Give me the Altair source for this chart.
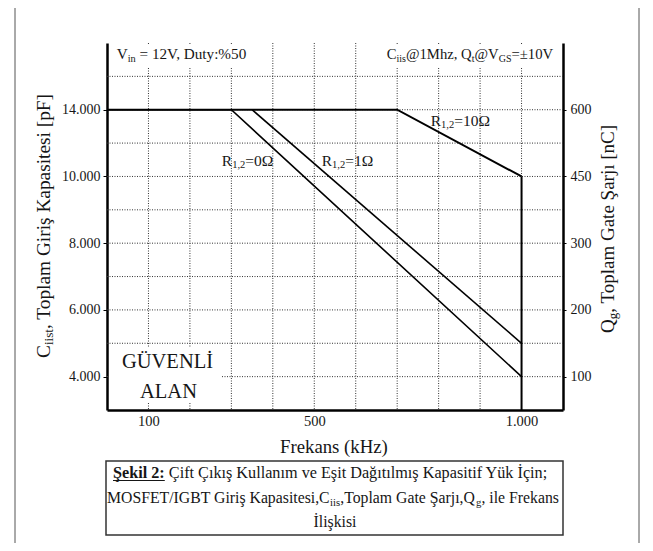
import altair as alt
import pandas as pd

# ---------------- data ----------------
freq_r0 = [0, 300, 1000]
cap_r0 = [14000, 14000, 4000]
freq_r1 = [350, 1000]
cap_r1 = [14000, 5000]
freq_r10 = [0, 700, 1000]
cap_r10 = [14000, 14000, 10000]
limit_freq = [1000]
limit_cap_top = [10000]
limit_cap_bottom = [3000]

cap_ticks = [4000, 6000, 8000, 10000, 14000]
cap_grid = [4000, 5000, 6000, 7000, 8000, 9000, 10000, 12000, 14000, 16000]
q_ticks = [100, 200, 300, 450, 600]
freq_ticks = [100, 500, 1000]
freq_grid = [100, 200, 300, 400, 500, 600, 700, 800, 900, 1000]

cap_domain = [3000, 4000, 6000, 8000, 10000, 14000, 18000]
q_domain = [50, 100, 200, 300, 450, 600, 750]
freq_domain = [0, 1100]

label_freq = [277, 518, 781]
label_cap = [10650, 10650, 13050]
label_tail = ["=0\u03a9", "=1\u03a9", "=10\u03a9"]

# ---------------- layout ----------------
W, H = 456, 367
OX, OY = 107, 43          # screen position of the plot origin
FONT = "Liberation Serif"
INK = "#161616"
steps = [0, 1, 3, 5, 7, 9, 11]
yrange = [H - s * H / 11 for s in steps]

# Times / Liberation Serif advance widths (1/1000 em)
TW = {' ': 250, '%': 833, '(': 333, ')': 333, ',': 250, '-': 333, '.': 250, '/': 278,
      ':': 278, ';': 278, '=': 564, '@': 921, '[': 333, ']': 333, '\u00b1': 564, '\u03a9': 768,
      'A': 722, 'B': 667, 'C': 667, 'D': 722, 'E': 611, 'F': 556, 'G': 722, 'H': 722, 'I': 333,
      'J': 389, 'K': 722, 'L': 611, 'M': 889, 'N': 722, 'O': 722, 'P': 556, 'Q': 722, 'R': 667,
      'S': 556, 'T': 611, 'U': 722, 'V': 722, 'W': 944, 'X': 722, 'Y': 722, 'Z': 611,
      'a': 444, 'b': 500, 'c': 444, 'd': 500, 'e': 444, 'f': 333, 'g': 500, 'h': 500, 'i': 278,
      'j': 278, 'k': 500, 'l': 278, 'm': 778, 'n': 500, 'o': 500, 'p': 500, 'q': 500, 'r': 333,
      's': 389, 't': 278, 'u': 500, 'v': 500, 'w': 722, 'x': 500, 'y': 500, 'z': 444,
      '\u015f': 389, '\u015e': 556, '\u0131': 278, '\u0130': 333, '\u011f': 500, '\u00e7': 444,
      '\u00c7': 667, '\u00fc': 500, '\u00dc': 722}
TB = {' ': 250, ':': 333, '2': 500, '\u015e': 556, 'e': 444, 'k': 556, 'i': 278, 'l': 278}
SUB = 0.68
SUBDY = 0.17


def tw(s, table=TW):
    return sum(table.get(ch, 500) for ch in s) / 1000.0


def compose(pieces, x0, y0, target=None, size=None, angle=0, anchor="start"):
    em = sum(tw(t, TB if k == 'b' else TW) * (SUB if k == 's' else 1.0) for t, k in pieces)
    if size is None:
        size = target / em
    off = 0.0 if anchor == "start" else -em * size / 2
    dvec, nvec = ((0, -1), (1, 0)) if angle == 270 else ((1, 0), (0, 1))
    rows = []
    for t, k in pieces:
        table = TB if k == 'b' else TW
        fs = size * (SUB if k == 's' else 1.0)
        shift = size * SUBDY if k == 's' else 0.0
        lead = len(t) - len(t.lstrip(' '))
        o2 = off + tw(' ' * lead, table) * fs
        rows.append(dict(text=t.strip(' '),
                         px=x0 + o2 * dvec[0] + shift * nvec[0] - OX,
                         py=y0 + o2 * dvec[1] + shift * nvec[1] - OY,
                         fs=fs, ang=angle, bold=(k == 'b')))
        off += tw(t, table) * fs
    return rows, size


rows = []
r, _ = compose([("V", 'n'), ("in", 's'), (" = 12V, Duty:%50", 'n')], 116.7, 59.3, target=131.6)
rows += r
r, _ = compose([("C", 'n'), ("iis", 's'), ("@1Mhz, Q", 'n'), ("t", 's'), ("@V", 'n'), ("GS", 's'),
                ("=\u00b110V", 'n')], 386.7, 59.3, target=166.7)
rows += r
r, _ = compose([("G\u00dcVENL\u0130", 'n')], 167.5, 368, size=20.5, anchor="middle")
rows += r
r, _ = compose([("ALAN", 'n')], 168.5, 398, size=20.5, anchor="middle")
rows += r
r, _ = compose([("C", 'n'), ("iist", 's'), (", Toplam Giri\u015f Kapasitesi [pF]", 'n')],
               50, 358, target=266, angle=270)
rows += r
r, _ = compose([("Q", 'n'), ("g", 's'), (", Toplam Gate \u015earj\u0131 [nC]", 'n')],
               614, 333, target=210, angle=270)
rows += r
r, _ = compose([("Frekans (kHz)", 'n')], 334, 452.7, target=108, anchor="middle")
rows += r
r, s1 = compose([("\u015eekil 2:", 'b'),
                 (" \u00c7ift \u00c7\u0131k\u0131\u015f Kullan\u0131m ve E\u015fit Da\u011f\u0131t\u0131lm\u0131\u015f Kapasitif Y\u00fck \u0130\u00e7in;", 'n')],
                113, 478.3, target=435)
rows += r
r, s2 = compose([("MOSFET/IGBT Giri\u015f Kapasitesi,C", 'n'), ("iis", 's'),
                 (",Toplam Gate \u015earj\u0131,Q", 'n'), ("g", 's'), (", ile Frekans", 'n')],
                107, 503.3, target=452)
rows += r
r, _ = compose([("\u0130li\u015fkisi", 'n')], 335, 526.7, size=s2, anchor="middle")
rows += r
texts = pd.DataFrame(rows)
underline_w = tw("\u015eekil 2:", TB) * s1


def box(x1, y1, x2, y2):
    return dict(x1=x1 - OX, y1=y1 - OY, x2=x2 - OX, y2=y2 - OY)


white_boxes = pd.DataFrame([box(109, 44, 253, 68), box(383, 44, 561, 68),
                            box(109, 348, 222, 378), box(135, 378, 201, 402)])
frame = pd.DataFrame([box(15, 2, 15, 551), box(639, 2, 639, 551), box(15, 2, 639, 2)])
caption_box = pd.DataFrame([box(106, 461, 563, 535)])
underline = pd.DataFrame([box(113, 480.5, 113 + underline_w, 480.5)])

# ---------------- scales & axes ----------------
xscale = alt.Scale(domain=freq_domain, nice=False, zero=False)
yscale = alt.Scale(domain=cap_domain, range=yrange, nice=False, zero=False)
qscale = alt.Scale(domain=q_domain, range=yrange, nice=False, zero=False)
dotlabel = "replace(format(datum.value, ','), ',', '.')"

x_axis = alt.Axis(values=freq_ticks, labelExpr=dotlabel, ticks=False, labelPadding=4,
                  labelFont=FONT, labelColor=INK, labelFontSize=14.5, domainColor="black",
                  domainWidth=2.5, title=None, grid=False)
y_axis = alt.Axis(values=cap_ticks, labelExpr=dotlabel, ticks=True, tickSize=4, tickColor="black",
                  labelPadding=3, labelFont=FONT, labelColor=INK, labelFontSize=14,
                  domainColor="black", domainWidth=2.5, title=None, grid=False)
q_axis = alt.Axis(orient="right", values=q_ticks, ticks=True, tickSize=3, tickColor="black",
                  labelPadding=4, labelFont=FONT, labelColor=INK, labelFontSize=14,
                  domainColor="black", domainWidth=2.5, title=None, grid=False)

px = alt.X("px:Q", scale=None, axis=None)
py = alt.Y("py:Q", scale=None, axis=None)

# ---------------- layers ----------------
vgrid = alt.Chart(pd.DataFrame({"f": freq_grid})).mark_rule(
    color="#333", strokeWidth=1, strokeDash=[1, 1.5]).encode(
    x=alt.X("f:Q", scale=xscale, axis=x_axis))
hgrid = alt.Chart(pd.DataFrame({"c": cap_grid})).mark_rule(
    color="#333", strokeWidth=1, strokeDash=[1, 1.5]).encode(
    y=alt.Y("c:Q", scale=yscale, axis=y_axis))

boxes = alt.Chart(white_boxes).mark_rect(color="white").encode(
    x=alt.X("x1:Q", scale=None, axis=None), x2="x2:Q",
    y=alt.Y("y1:Q", scale=None, axis=None), y2="y2:Q")

curves_df = pd.concat([
    pd.DataFrame({"series": "R0", "f": freq_r0, "c": cap_r0, "w": 1.6}),
    pd.DataFrame({"series": "R1", "f": freq_r1, "c": cap_r1, "w": 1.6}),
    pd.DataFrame({"series": "R10", "f": freq_r10, "c": cap_r10, "w": 2.0}),
], ignore_index=True)
curves = alt.Chart(curves_df).mark_line(color="black", strokeJoin="miter").encode(
    x=alt.X("f:Q", scale=xscale, axis=None),
    y=alt.Y("c:Q", scale=yscale, axis=None),
    detail="series:N",
    strokeWidth=alt.StrokeWidth("w:Q", scale=None))
limit = alt.Chart(pd.DataFrame({"f": limit_freq, "c": limit_cap_top, "c2": limit_cap_bottom})).mark_rule(
    color="black", strokeWidth=2).encode(
    x=alt.X("f:Q", scale=xscale, axis=None),
    y=alt.Y("c:Q", scale=yscale, axis=None), y2="c2:Q")

lab_df = pd.DataFrame({"f": label_freq, "c": label_cap, "tail": label_tail})
LS = 15.5
lab_base = alt.Chart(lab_df).encode(x=alt.X("f:Q", scale=xscale, axis=None),
                                    y=alt.Y("c:Q", scale=yscale, axis=None))
lab_r = lab_base.mark_text(align="left", baseline="alphabetic", font=FONT, fontSize=LS,
                           color=INK).encode(text=alt.value("R"))
lab_sub = lab_base.mark_text(align="left", baseline="alphabetic", font=FONT, fontSize=LS * SUB,
                             color=INK, dx=tw("R") * LS, dy=LS * SUBDY).encode(text=alt.value("1,2"))
lab_tail = lab_base.mark_text(align="left", baseline="alphabetic", font=FONT, fontSize=LS,
                              color=INK, dx=tw("R") * LS + tw("1,2") * SUB * LS).encode(text="tail:N")

txt_norm = alt.Chart(texts[~texts.bold]).mark_text(
    align="left", baseline="alphabetic", font=FONT, color=INK).encode(
    x=px, y=py, text="text:N", size=alt.Size("fs:Q", scale=None),
    angle=alt.Angle("ang:Q", scale=None))
txt_bold = alt.Chart(texts[texts.bold]).mark_text(
    align="left", baseline="alphabetic", font=FONT, color=INK, fontWeight="bold").encode(
    x=px, y=py, text="text:N", size=alt.Size("fs:Q", scale=None),
    angle=alt.Angle("ang:Q", scale=None))

frame_l = alt.Chart(frame).mark_rule(color="#555", strokeWidth=1).encode(
    x=alt.X("x1:Q", scale=None, axis=None), x2="x2:Q",
    y=alt.Y("y1:Q", scale=None, axis=None), y2="y2:Q")
cap_l = alt.Chart(caption_box).mark_rect(fill="white", stroke="#333", strokeWidth=1.5).encode(
    x=alt.X("x1:Q", scale=None, axis=None), x2="x2:Q",
    y=alt.Y("y1:Q", scale=None, axis=None), y2="y2:Q")
under_l = alt.Chart(underline).mark_rule(color=INK, strokeWidth=1).encode(
    x=alt.X("x1:Q", scale=None, axis=None), x2="x2:Q",
    y=alt.Y("y1:Q", scale=None, axis=None), y2="y2:Q")

right = alt.Chart(pd.DataFrame({"q": q_ticks})).mark_point(opacity=0).encode(
    x=alt.value(0), y=alt.Y("q:Q", scale=qscale, axis=q_axis))

chart = alt.layer(hgrid, vgrid, boxes, curves, limit, lab_r, lab_sub, lab_tail,
                  frame_l, cap_l, under_l, txt_norm, txt_bold, right).resolve_scale(
    y="independent").resolve_axis(x="independent", y="independent").properties(
    width=W, height=H,
    padding={"left": 99, "top": 35, "right": 82, "bottom": 133},
    autosize=alt.AutoSizeParams(type="none"),
    background="white",
).configure_view(stroke=None)

chart.save("out.html", embed_options={"renderer": "svg", "actions": False})
